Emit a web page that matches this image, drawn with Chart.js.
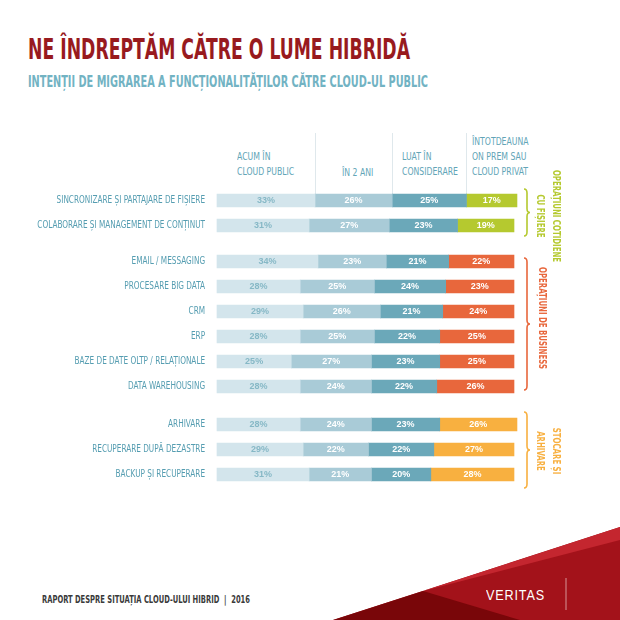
<!DOCTYPE html>
<html><head><meta charset="utf-8">
<script src="https://cdn.jsdelivr.net/npm/chart.js@4.4.0/dist/chart.umd.min.js"></script>
<style>
html,body{margin:0;padding:0;background:#fff;}
#wrap{position:relative;width:620px;height:620px;overflow:hidden;font-family:'Liberation Sans Narrow','DejaVu Sans Condensed',sans-serif;}
.abs{position:absolute;white-space:nowrap;}
canvas{position:absolute;left:0;}
.hdr{color:#62a5b7;font-size:10.5px;line-height:15px;transform:scaleX(0.82);transform-origin:left top;}
.grp{font-size:10.5px;font-weight:bold;line-height:16px;text-align:center;transform:translate(-50%,-50%) rotate(90deg) scaleX(0.74);}
</style></head><body>
<div id="wrap">
<svg class="abs" style="left:0;top:0" width="620" height="620">
  <polygon points="333,620 620,527 620,620" fill="#a3121a"/>
  <polygon points="423,591 620,527 620,540" fill="#c4262f"/>
  <polygon points="333,620 423,591 520,620" fill="#790609"/>
  <line x1="566" y1="578" x2="566" y2="610" stroke="#ffffff" stroke-opacity="0.55" stroke-width="1"/>
  <path id="b1" fill="none" stroke="#b5c92f" stroke-width="1.6"/>
  <path id="b2" fill="none" stroke="#e8673c" stroke-width="1.6"/>
  <path id="b3" fill="none" stroke="#f8b040" stroke-width="1.6"/>
</svg>
<div id="title" class="abs" style="left:28px;top:33px;color:#981a1e;font-size:28px;font-weight:bold;transform-origin:left center;">NE ÎNDREPTĂM CĂTRE O LUME HIBRIDĂ</div>
<div id="subtitle" class="abs" style="left:28px;top:73px;color:#72b3c3;font-size:15px;font-weight:bold;transform-origin:left center;">INTENȚII DE MIGRAREA A FUNCȚIONALITĂȚILOR CĂTRE CLOUD-UL PUBLIC</div>
<div class="abs hdr" style="left:237px;top:149px;">ACUM ÎN<br>CLOUD PUBLIC</div>
<div class="abs hdr" style="left:342px;top:165px;">ÎN 2 ANI</div>
<div class="abs hdr" style="left:402px;top:149px;">LUAT ÎN<br>CONSIDERARE</div>
<div class="abs hdr" style="left:472px;top:134px;">ÎNTOTDEAUNA<br>ON PREM SAU<br>CLOUD PRIVAT</div>
<canvas id="c1" width="540" height="107" style="top:131px"></canvas>
<canvas id="c2" width="540" height="150" style="top:249px"></canvas>
<canvas id="c3" width="540" height="75" style="top:412px"></canvas>
<div class="abs grp" style="left:549px;top:216px;color:#b5c92f;">OPERAȚIUNI COTIDIENE<br>CU FIȘIERE</div>
<div class="abs grp" style="left:543px;top:318px;color:#e8673c;">OPERAȚIUNI DE BUSINESS</div>
<div class="abs grp" style="left:549px;top:451px;color:#f8b040;">STOCARE ȘI<br>ARHIVARE</div>
<div id="footer" class="abs" style="left:42px;top:594px;color:#3a3a3a;font-size:10px;font-weight:bold;transform-origin:left center;">RAPORT DESPRE SITUAȚIA CLOUD-ULUI HIBRID &nbsp;|&nbsp; 2016</div>
<div id="veritas" class="abs" style="left:486px;top:586px;color:#fff;font-family:'Liberation Sans',sans-serif;font-size:15px;letter-spacing:1px;transform-origin:left center;">VERITAS</div>
</div>
<script>
// ---- data ----
const categories = [
  'SINCRONIZARE ȘI PARTAJARE DE FIȘIERE',
  'COLABORARE ȘI MANAGEMENT DE CONȚINUT',
  'EMAIL / MESSAGING',
  'PROCESARE BIG DATA',
  'CRM',
  'ERP',
  'BAZE DE DATE OLTP / RELAȚIONALE',
  'DATA WAREHOUSING',
  'ARHIVARE',
  'RECUPERARE DUPĂ DEZASTRE',
  'BACKUP ȘI RECUPERARE'
];
const seriesNames = ['ACUM ÎN CLOUD PUBLIC','ÎN 2 ANI','LUAT ÎN CONSIDERARE','ÎNTOTDEAUNA ON PREM SAU CLOUD PRIVAT'];
const acumInCloudPublic = [33,31,34,28,29,28,25,28,28,29,31];
const in2Ani            = [26,27,23,25,26,25,27,24,24,22,21];
const luatInConsiderare = [25,23,21,24,21,22,23,22,23,22,20];
const intotdeaunaOnPrem = [17,19,22,23,24,25,25,26,26,27,28];
const groupSizes = [2,6,3];

// ---- styling ----
const FONT = "'Liberation Sans Narrow','DejaVu Sans Condensed',sans-serif";
const baseColors = ['#d3e5ec','#a9cbd7','#6ba8b9'];
const groupColors = ['#b5c92f','#e8673c','#f8b040'];
const allSeries = [acumInCloudPublic,in2Ani,luatInConsiderare,intotdeaunaOnPrem];
const LABEL_SQUEEZE = 0.74;

const valueLabels = {
  id:'valueLabels',
  afterDatasetsDraw(chart){
    const ctx = chart.ctx;
    ctx.save();
    ctx.font = "bold 9px 'Liberation Sans',sans-serif";
    ctx.textAlign = 'center';
    ctx.textBaseline = 'middle';
    chart.data.datasets.forEach((ds,di)=>{
      const meta = chart.getDatasetMeta(di);
      meta.data.forEach((el,i)=>{
        ctx.fillStyle = di===0 ? '#86b8c6' : '#ffffff';
        ctx.fillText(ds.data[i]+'%', (el.x+el.base)/2, el.y+0.5);
      });
    });
    ctx.restore();
  }
};
// condense the category labels horizontally (the original uses a condensed typeface)
const squeezeLabels = {
  id:'squeezeLabels',
  afterLayout(chart){
    const s = chart.scales.y;
    if (s.__squeezed) return;
    const orig = s.drawLabels.bind(s);
    s._computeLabelArea = () => undefined;
    s.drawLabels = function(area){
      const ctx = this.ctx;
      const ax = this.right - this.options.ticks.padding;
      ctx.save();
      ctx.translate(ax,0); ctx.scale(LABEL_SQUEEZE,1); ctx.translate(-ax,0);
      orig(area);
      ctx.restore();
    };
    s.__squeezed = true;
  }
};
const headerLines = {
  id:'headerLines',
  beforeDatasetsDraw(chart){
    const ctx = chart.ctx, xs = chart.scales.x, top = chart.chartArea.top;
    ctx.save();
    ctx.strokeStyle = '#dfe8ec';
    ctx.lineWidth = 1;
    let cum = 0;
    for (let s=0; s<3; s++){
      cum += chart.data.datasets[s].data[0];
      const x = Math.round(xs.getPixelForValue(cum))+0.5;
      ctx.beginPath(); ctx.moveTo(x,2); ctx.lineTo(x,top+6); ctx.stroke();
    }
    ctx.restore();
  }
};

function makeChart(id, start, count, gi, topPad){
  const datasets = allSeries.map((arr,si)=>({
    label: seriesNames[si],
    data: arr.slice(start,start+count),
    backgroundColor: si<3 ? baseColors[si] : groupColors[gi],
    borderWidth:0,
    barThickness:13,
    clip:false
  }));
  return new Chart(document.getElementById(id), {
    type:'bar',
    data:{labels:categories.slice(start,start+count), datasets},
    options:{
      indexAxis:'y',
      responsive:false,
      animation:false,
      layout:{autoPadding:false,padding:{top:topPad,right:26,left:0,bottom:0}},
      plugins:{legend:{display:false},tooltip:{enabled:false}},
      scales:{
        x:{stacked:true,min:0,max:100,display:false},
        y:{stacked:true,grid:{display:false},border:{display:false},
           ticks:{color:'#559db1',padding:6,font:{family:FONT,size:11}},
           afterFit(s){ s.width = 217; s.paddingTop = 0; s.paddingBottom = 0; }}
      }
    },
    plugins: gi===0 ? [squeezeLabels, valueLabels, headerLines] : [squeezeLabels, valueLabels]
  });
}
let st = 0;
makeChart('c1', st, groupSizes[0], 0, 57); st += groupSizes[0];
makeChart('c2', st, groupSizes[1], 1, 0); st += groupSizes[1];
makeChart('c3', st, groupSizes[2], 2, 0);

// braces
function brace(id, x, y1, y2){
  const ym = (y1+y2)/2;
  const d = `M${x-3},${y1} Q${x},${y1} ${x},${y1+4} L${x},${ym-4} Q${x},${ym} ${x+3},${ym} Q${x},${ym} ${x},${ym+4} L${x},${y2-4} Q${x},${y2} ${x-3},${y2}`;
  document.getElementById(id).setAttribute('d', d);
}
brace('b1', 527, 189, 236);
brace('b2', 527, 258, 390);
brace('b3', 527, 412, 488);

function fit(id, w){
  const el = document.getElementById(id);
  const r = el.getBoundingClientRect().width;
  el.style.transform = `scaleX(${w/r})`;
}
fit('title', 382);
fit('subtitle', 400);
fit('footer', 208);
fit('veritas', 59);
</script>
</body></html>
